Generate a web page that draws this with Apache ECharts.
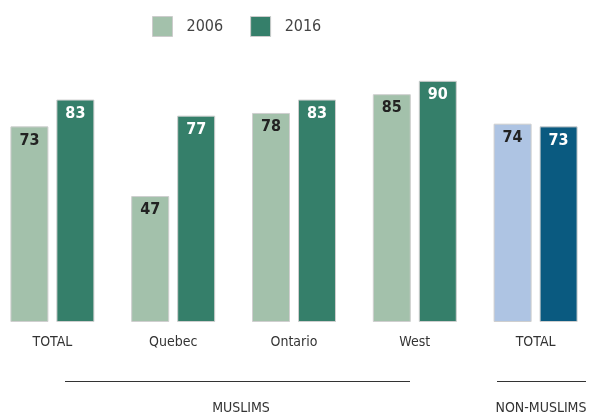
<!DOCTYPE html>
<html>
<head>
<meta charset="utf-8">
<title>Muslims 2006 / 2016</title>
<script src="https://cdn.jsdelivr.net/npm/echarts@6/dist/echarts.min.js"></script>
<style>
    html, body { margin: 0; padding: 0; background: #fff; }
    #main { width: 594px; height: 417px; }
</style>
</head>
<body>
<div id="main"></div>
<script>
    // data
    var categories = ['TOTAL', 'Quebec', 'Ontario', 'West', 'TOTAL'];
    var values2006 = [73, 47, 78, 85, 74];
    var values2016 = [83, 77, 83, 90, 73];
    var groupNames = ['MUSLIMS', 'NON-MUSLIMS'];

    var FONT = '"DejaVu Sans Condensed", "Liberation Sans Narrow", sans-serif';
    var green2006 = '#a3c1ab', green2016 = '#357f6a';
    var blue2006 = '#aec4e3', blue2016 = '#0a5a80';

    // last category (non-muslims) gets blue colours
    function coloured(arr, blue) {
        return arr.map(function (v, i) {
            return i === arr.length - 1 ? { value: v, itemStyle: { color: blue } } : v;
        });
    }

    var chart = echarts.init(document.getElementById('main'));
    chart.setOption({
        animation: false,
        textStyle: { fontFamily: FONT },
        legend: {
            top: 16,
            left: 152,
            padding: 0,
            itemWidth: 20,
            itemHeight: 20,
            itemGap: 27,
            icon: 'rect',
            textStyle: { fontSize: 16, color: '#444', fontFamily: FONT, padding: [0, 0, 0, 9] },
            itemStyle: { borderColor: '#ccc', borderWidth: 1 },
            data: ['2006', '2016']
        },
        grid: { left: -8, width: 604, top: 54, bottom: 95, outerBoundsMode: 'none', containLabel: false },
        xAxis: {
            type: 'category',
            data: categories,
            axisLine: { show: false },
            axisTick: { show: false },
            axisLabel: { fontSize: 14, color: '#333', margin: 13, fontFamily: FONT }
        },
        yAxis: { type: 'value', min: 0, max: 100, show: false, splitLine: { show: false } },
        series: [
            {
                name: '2006',
                type: 'bar',
                barWidth: 38,
                barGap: '21%',
                itemStyle: { color: green2006, borderColor: '#cfcfcf', borderWidth: 1 },
                label: { show: true, position: 'insideTop', distance: 6, fontSize: 16, fontWeight: 'bold', color: '#222', fontFamily: FONT },
                data: coloured(values2006, blue2006)
            },
            {
                name: '2016',
                type: 'bar',
                barWidth: 38,
                itemStyle: { color: green2016, borderColor: '#cfcfcf', borderWidth: 1 },
                label: { show: true, position: 'insideTop', distance: 6, fontSize: 16, fontWeight: 'bold', color: '#fff', fontFamily: FONT },
                data: coloured(values2016, blue2016)
            }
        ],
        graphic: [
            { type: 'line', shape: { x1: 65, y1: 381.5, x2: 410, y2: 381.5 }, style: { stroke: '#333', lineWidth: 1 } },
            { type: 'line', shape: { x1: 497, y1: 381.5, x2: 586, y2: 381.5 }, style: { stroke: '#333', lineWidth: 1 } },
            { type: 'text', x: 241, y: 408, style: { text: groupNames[0], fontSize: 14, fontFamily: FONT, fill: '#333', textAlign: 'center', textVerticalAlign: 'middle' } },
            { type: 'text', x: 541, y: 408, style: { text: groupNames[1], fontSize: 14, fontFamily: FONT, fill: '#333', textAlign: 'center', textVerticalAlign: 'middle' } }
        ]
    });
</script>
</body>
</html>
